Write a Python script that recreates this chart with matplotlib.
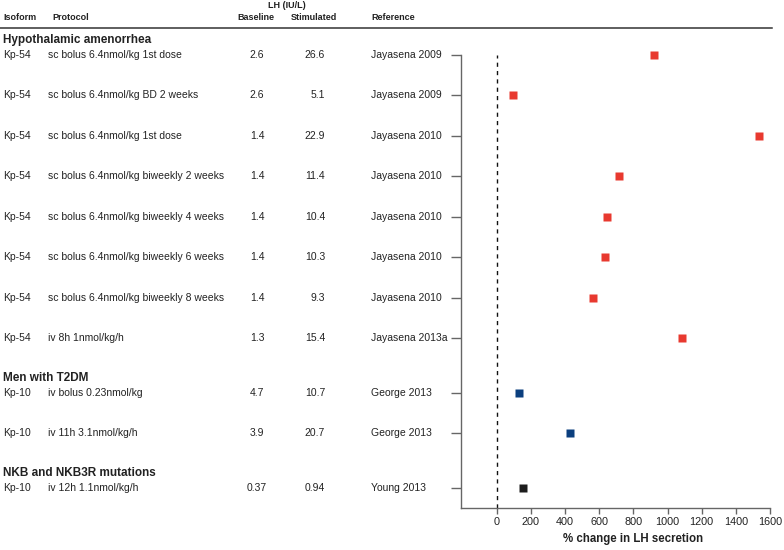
import matplotlib
matplotlib.use("Agg")
import matplotlib.pyplot as plt
import matplotlib.transforms as mtransforms
from matplotlib.lines import Line2D

plt.rcParams['font.family'] = ['Liberation Sans', 'DejaVu Sans']

# table data
groups = ['Hypothalamic amenorrhea', 'Men with T2DM', 'NKB and NKB3R mutations']
group_of_row = [0, 0, 0, 0, 0, 0, 0, 0, 1, 1, 2]
isoform = ['Kp-54'] * 8 + ['Kp-10'] * 3
protocol = ['sc bolus 6.4nmol/kg 1st dose',
            'sc bolus 6.4nmol/kg BD 2 weeks',
            'sc bolus 6.4nmol/kg 1st dose',
            'sc bolus 6.4nmol/kg biweekly 2 weeks',
            'sc bolus 6.4nmol/kg biweekly 4 weeks',
            'sc bolus 6.4nmol/kg biweekly 6 weeks',
            'sc bolus 6.4nmol/kg biweekly 8 weeks',
            'iv 8h 1nmol/kg/h',
            'iv bolus 0.23nmol/kg',
            'iv 11h 3.1nmol/kg/h',
            'iv 12h 1.1nmol/kg/h']
baseline = ['2.6', '2.6', '1.4', '1.4', '1.4', '1.4', '1.4', '1.3', '4.7', '3.9', '0.37']
stimulated = ['26.6', '5.1', '22.9', '11.4', '10.4', '10.3', '9.3', '15.4', '10.7', '20.7', '0.94']
reference = ['Jayasena 2009', 'Jayasena 2009', 'Jayasena 2010', 'Jayasena 2010',
             'Jayasena 2010', 'Jayasena 2010', 'Jayasena 2010', 'Jayasena 2013a',
             'George 2013', 'George 2013', 'Young 2013']
# % change in LH secretion
pct_change = [923, 96, 1536, 714, 643, 636, 564, 1085, 128, 431, 154]
group_colors = ['#e8392f', '#0b3f7e', '#1c1c1c']

W, H = 784, 550
fig = plt.figure(figsize=(W / 100, H / 100), dpi=100)
ax = fig.add_axes([461 / W, 42 / H, 309 / W, 453 / H])

# row positions, with a small extra gap between groups
ypos = []
pos = 0.0
for i, g in enumerate(group_of_row):
    if i > 0:
        pos += 1.35 if g != group_of_row[i - 1] else 1.0
    ypos.append(pos)

ax.set_xlim(-209, 1600)
ax.set_ylim(ypos[-1] + 0.5, 0)

ax.axvline(0, color='#111111', lw=1.0, ls=(0, (3, 3)))
for i in range(len(ypos)):
    ax.plot(pct_change[i], ypos[i], 's', ms=6, color=group_colors[group_of_row[i]],
            mec='none', clip_on=False)

for s in ['top', 'right']:
    ax.spines[s].set_visible(False)
for s in ['left', 'bottom']:
    ax.spines[s].set_color('#666666')
    ax.spines[s].set_linewidth(1.0)

ax.set_yticks(ypos)
ax.set_yticklabels([])
ax.tick_params(axis='y', length=7, width=1.0, color='#666666')
ax.set_xticks(range(0, 1601, 200))
ax.tick_params(axis='x', length=4.5, width=1.0, color='#666666', labelsize=7.8,
               labelcolor='#222222', pad=2)
ax.set_xlabel('% change in LH secretion', fontsize=8.3, fontweight='bold',
              color='#222222')
# label is centred on the 0-1600 range, not on the whole axes
ax.xaxis.set_label_coords((633 - 461) / 309, (508 - 533) / 453)

# table text to the left of the axes
tr = mtransforms.blended_transform_factory(fig.transFigure, ax.transData)
txt = dict(fontsize=7.5, color='#222222', va='center', transform=tr)
prev = None
for i, y in enumerate(ypos):
    g = group_of_row[i]
    if g != prev:
        ax.text(3 / W, y - 0.37, groups[g], fontsize=8.5, fontweight='bold',
                color='#222222', va='center', transform=tr)
        prev = g
    ax.text(3 / W, y, isoform[i], **txt)
    ax.text(48 / W, y, protocol[i], **txt)
    ax.text(257 / W, y, baseline[i], ha='center', **txt)
    ax.text(325 / W, y, stimulated[i], ha='right', **txt)
    ax.text(371 / W, y, reference[i], **txt)

# column headers
hdr = dict(fontsize=6.5, fontweight='bold', color='#222222', va='center')
fig.text(3 / W, 1 - 17 / H, 'Isoform', **hdr)
fig.text(52 / W, 1 - 17 / H, 'Protocol', **hdr)
fig.text(256 / W, 1 - 17 / H, 'Baseline', ha='center', **hdr)
fig.text(314 / W, 1 - 17 / H, 'Stimulated', ha='center', **hdr)
fig.text(287 / W, 1 - 6 / H, 'LH (IU/L)', ha='center', **hdr)
fig.text(371 / W, 1 - 17 / H, 'Reference', **hdr)
fig.add_artist(Line2D([0, 772 / W], [1 - 28 / H, 1 - 28 / H], color='#333333',
                      lw=1.1, transform=fig.transFigure))

fig.savefig('out.png', dpi=100)
